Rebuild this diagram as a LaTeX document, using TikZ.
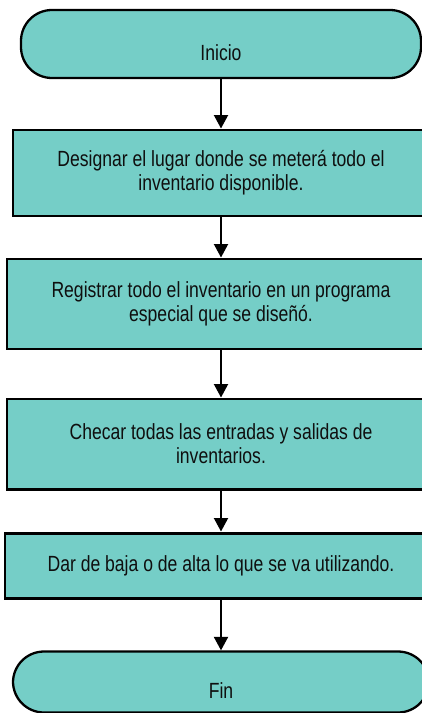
\documentclass[tikz,border=0pt]{standalone}
\usepackage{fontspec}
\setmainfont{Liberation Sans}[FakeStretch=0.8]
\usepackage{tikz}
\usetikzlibrary{arrows.meta, positioning}
\definecolor{turquesa}{RGB}{117, 206, 199}
\definecolor{negroTxt}{RGB}{15, 15, 15}

\begin{document}
\begin{tikzpicture}[
  term/.style={rectangle, draw=black, fill=turquesa, line width=1.3pt,
    rounded corners=0.62cm, minimum width=#1, text height=0.66cm,
    text depth=0cm, inner sep=0pt, text=negroTxt,
    font=\fontsize{12.5}{13.7}\selectfont},
  paso/.style={rectangle, draw=black, fill=turquesa, line width=1.7pt,
    minimum width=#1, align=center, inner sep=0pt, text=negroTxt,
    font=\fontsize{12.5}{13.7}\selectfont},
  flecha/.style={line width=1.15pt, -{Triangle[width=0.28cm, length=0.27cm]}},
]
\useasboundingbox (0,0) rectangle (8.44,-14.26);
\node[term=8cm,    minimum height=1.36cm] (inicio) at (4.42, -0.88) {Inicio};
\node[paso=8.32cm, minimum height=1.72cm] (lugar)  at (4.42, -3.46)
  {Designar el lugar donde se meterá todo el\\inventario disponible.};
\node[paso=8.56cm, minimum height=1.80cm] (registro) at (4.42, -6.08)
  {Registrar todo el inventario en un programa\\especial que se diseñó.};
\node[paso=8.56cm, minimum height=1.80cm] (checar) at (4.42, -8.88)
  {Checar todas las entradas y salidas de\\inventarios.};
\node[paso=8.64cm, minimum height=1.30cm] (baja)   at (4.42, -11.31)
  {Dar de baja o de alta lo que se va utilizando.};
\node[term=8.32cm, minimum height=1.22cm] (fin)    at (4.42, -13.64) {Fin};
\draw[flecha] (inicio)   -- (lugar);
\draw[flecha] (lugar)    -- (registro);
\draw[flecha] (registro) -- (checar);
\draw[flecha] (checar)   -- (baja);
\draw[flecha] (baja)     -- (fin);
\end{tikzpicture}
\end{document}
